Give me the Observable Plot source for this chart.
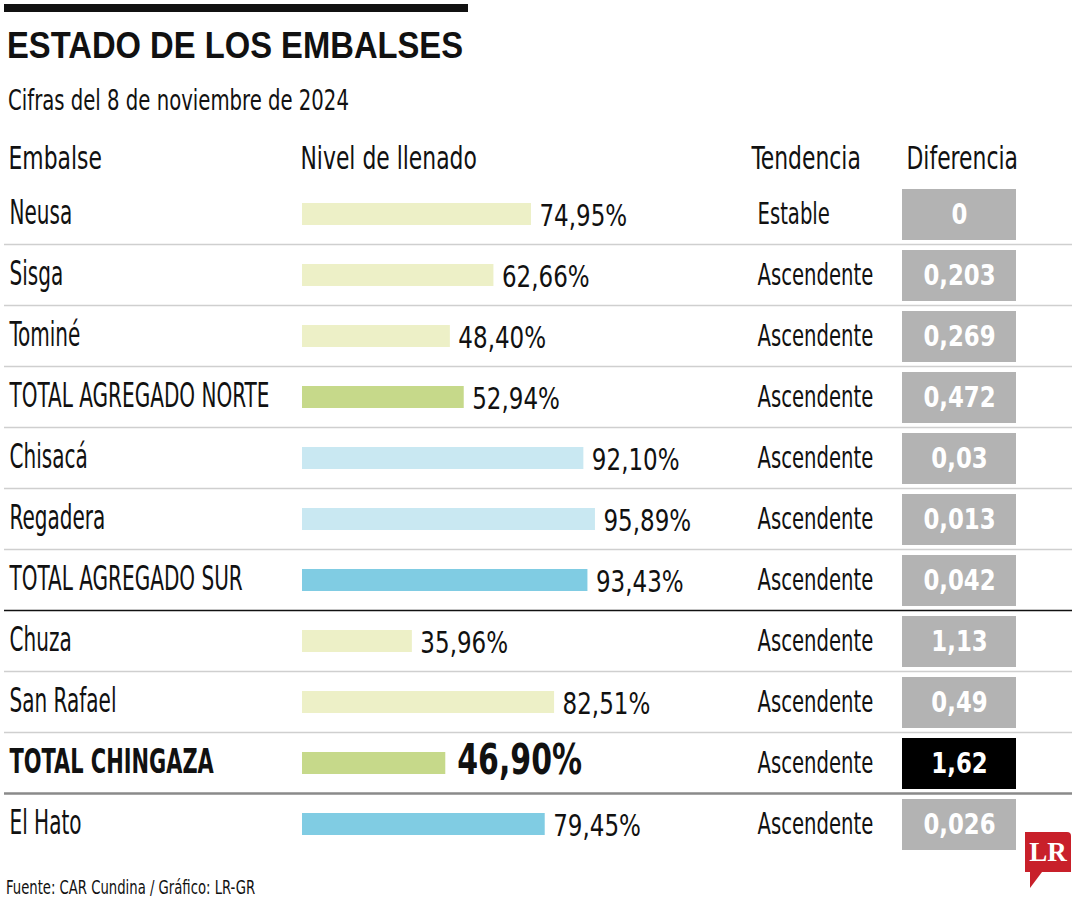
<!DOCTYPE html>
<html><head><meta charset="utf-8">
<script src="https://cdn.jsdelivr.net/npm/d3@7"></script>
<script src="https://cdn.jsdelivr.net/npm/@observablehq/plot@0.6"></script>
<style>
html,body{margin:0;padding:0;background:#fff;}
#page{position:relative;width:1080px;height:900px;overflow:hidden;font-family:'DejaVu Sans Condensed','DejaVu Sans',sans-serif;color:#111;}
#topbar{position:absolute;left:4px;top:4px;width:464px;height:8px;background:#111;}
#title{position:absolute;left:7px;top:27px;font-family:'Liberation Sans',Arial,sans-serif;font-weight:bold;font-size:37px;line-height:37px;transform:scaleX(0.885);transform-origin:left top;white-space:nowrap;}
#subtitle{position:absolute;left:8px;top:86px;font-size:29px;line-height:29px;transform:scaleX(0.754);transform-origin:left top;white-space:nowrap;}
#chart{position:absolute;left:0;top:128px;}
#footer{position:absolute;left:6px;top:877px;font-size:20px;line-height:20px;transform:scaleX(0.734);transform-origin:left top;white-space:nowrap;}
#logo{position:absolute;left:1025px;top:832px;width:46px;height:40px;background:#c8202a;border-top-right-radius:4px;color:#fff;font-family:'Liberation Serif','DejaVu Serif',serif;font-weight:bold;font-size:27px;line-height:40px;text-align:center;}
#logo:after{content:"";position:absolute;left:5px;top:40px;width:0;height:0;border-right:12px solid transparent;border-top:16px solid #c8202a;}
</style>
</head>
<body>
<div id="page">
  <div id="topbar"></div>
  <div id="title">ESTADO DE LOS EMBALSES</div>
  <div id="subtitle">Cifras del 8 de noviembre de 2024</div>
  <div id="chart"></div>
  <div id="footer">Fuente: CAR Cundina / Gráfico: LR-GR</div>
  <div id="logo">LR</div>
</div>
<script>
// ---- Data ----
const names = ["Neusa", "Sisga", "Tominé", "TOTAL AGREGADO NORTE", "Chisacá", "Regadera", "TOTAL AGREGADO SUR", "Chuza", "San Rafael", "TOTAL CHINGAZA", "El Hato"];
const nivel = [74.95, 62.66, 48.40, 52.94, 92.10, 95.89, 93.43, 35.96, 82.51, 46.90, 79.45];
const tendencia = ["Estable", "Ascendente", "Ascendente", "Ascendente", "Ascendente", "Ascendente", "Ascendente", "Ascendente", "Ascendente", "Ascendente", "Ascendente"];
const diferencia = [0, 0.203, 0.269, 0.472, 0.03, 0.013, 0.042, 1.13, 0.49, 1.62, 0.026];
const grupo = ["norte", "norte", "norte", "total norte", "sur", "sur", "total sur", "chingaza", "chingaza", "total chingaza", "el hato"];
const headers = ["Embalse", "Nivel de llenado", "Tendencia", "Diferencia"];

const grupoDomain = ["norte", "total norte", "sur", "total sur", "chingaza", "total chingaza", "el hato"];
const grupoColors = ["#edf0c7", "#c6d98a", "#c9e8f2", "#80cce3", "#edf0c7", "#c6d98a", "#80cce3"];

const rows = names.map((name, i) => ({name, nivel: nivel[i], tendencia: tendencia[i], diferencia: diferencia[i], grupo: grupo[i]}));
const fmtPct = v => v.toFixed(2).replace(".", ",") + "%";
const fmtDif = v => String(v).replace(".", ",");
const isHi = d => d.grupo === "total chingaza";

// ---- Layout ----
const FONT = "'DejaVu Sans Condensed','DejaVu Sans',sans-serif";
const W = 1080, H = 742, ML = 4, MR = 8;
const BAR0 = 302, BAR100 = 607.5;
const headX = [8, 300, 751, 906];
const squeeze = [];
function T(data, opts, k) {
  squeeze.push(k);
  return Plot.text(data, {fontFamily: FONT, lineAnchor: "bottom", fill: "#111", ...opts});
}
const seps = rows.slice(0, -1);

const marks = [
  Plot.ruleY(seps, {filter: d => d.grupo !== "total sur" && d.grupo !== "total chingaza", y: "name", dy: 30.5, stroke: "#cfcfcf", strokeWidth: 1.6}),
  Plot.ruleY(seps, {filter: d => d.grupo === "total sur", y: "name", dy: 30.5, stroke: "#111", strokeWidth: 1.6}),
  Plot.ruleY(seps, {filter: d => d.grupo === "total chingaza", y: "name", dy: 30.5, stroke: "#8a8a8a", strokeWidth: 2.6}),
  Plot.barX(rows, {x: "nivel", y: "name", fill: "grupo", insetTop: 20, insetBottom: 19}),
  Plot.cell(rows, {filter: d => !isHi(d), y: "name", fill: "#b3b3b3", insetLeft: 898, insetRight: W - MR - 1016, insetTop: 6, insetBottom: 4}),
  Plot.cell(rows, {filter: isHi, y: "name", fill: "#000", insetLeft: 898, insetRight: W - MR - 1016, insetTop: 6, insetBottom: 4}),
  T(rows, {filter: d => !isHi(d), y: "name", text: "name", frameAnchor: "left", textAnchor: "start", dx: 5, dy: 9.5, fontSize: 33}, 0.675),
  T(rows, {filter: isHi, y: "name", text: "name", frameAnchor: "left", textAnchor: "start", dx: 5, dy: 9.5, fontSize: 33, fontWeight: "bold"}, 0.705),
  T(rows, {filter: d => !isHi(d), x: "nivel", y: "name", text: d => fmtPct(d.nivel), textAnchor: "start", dx: 8, dy: 11.5, fontSize: 31}, 0.825),
  T(rows, {filter: isHi, x: "nivel", y: "name", text: d => fmtPct(d.nivel), textAnchor: "start", dx: 11.5, dy: 11, fontSize: 43, fontWeight: "bold"}, 0.774),
  T(rows, {y: "name", text: "tendencia", frameAnchor: "left", textAnchor: "start", dx: 757 - ML, dy: 9.5, fontSize: 30}, 0.728),
  T(rows, {y: "name", text: d => fmtDif(d.diferencia), frameAnchor: "left", textAnchor: "middle", dx: 959 - ML, dy: 9.5, fontSize: 29, fontWeight: "bold", fill: "#fff"}, 0.875),
  ...headers.map((h, i) => T([h], {text: d => d, frameAnchor: "top-left", textAnchor: "start", dx: headX[i] - ML, dy: 40, fontSize: 32}, 0.76))
];

const svg = Plot.plot({
  width: W, height: H,
  marginLeft: ML, marginRight: MR, marginTop: 0, marginBottom: 0,
  style: {fontFamily: FONT, background: "#fff"},
  x: {domain: [0, 100], range: [BAR0, BAR100], axis: null},
  y: {domain: names, range: [55, 726], padding: 0, axis: null},
  color: {domain: grupoDomain, range: grupoColors},
  marks
});
document.getElementById("chart").append(svg);

function applySqueeze() {
  const groups = svg.querySelectorAll('g[aria-label="text"]');
  groups.forEach((g, gi) => {
    const k = squeeze[gi];
    if (k == null || k === 1) return;
    g.querySelectorAll("text").forEach(t => {
      t.removeAttribute("textLength");
      const L = t.getComputedTextLength();
      t.setAttribute("textLength", (L * k).toFixed(2));
      t.setAttribute("lengthAdjust", "spacingAndGlyphs");
    });
  });
}
applySqueeze();
if (document.fonts && document.fonts.ready) document.fonts.ready.then(applySqueeze);
</script>
</body></html>
